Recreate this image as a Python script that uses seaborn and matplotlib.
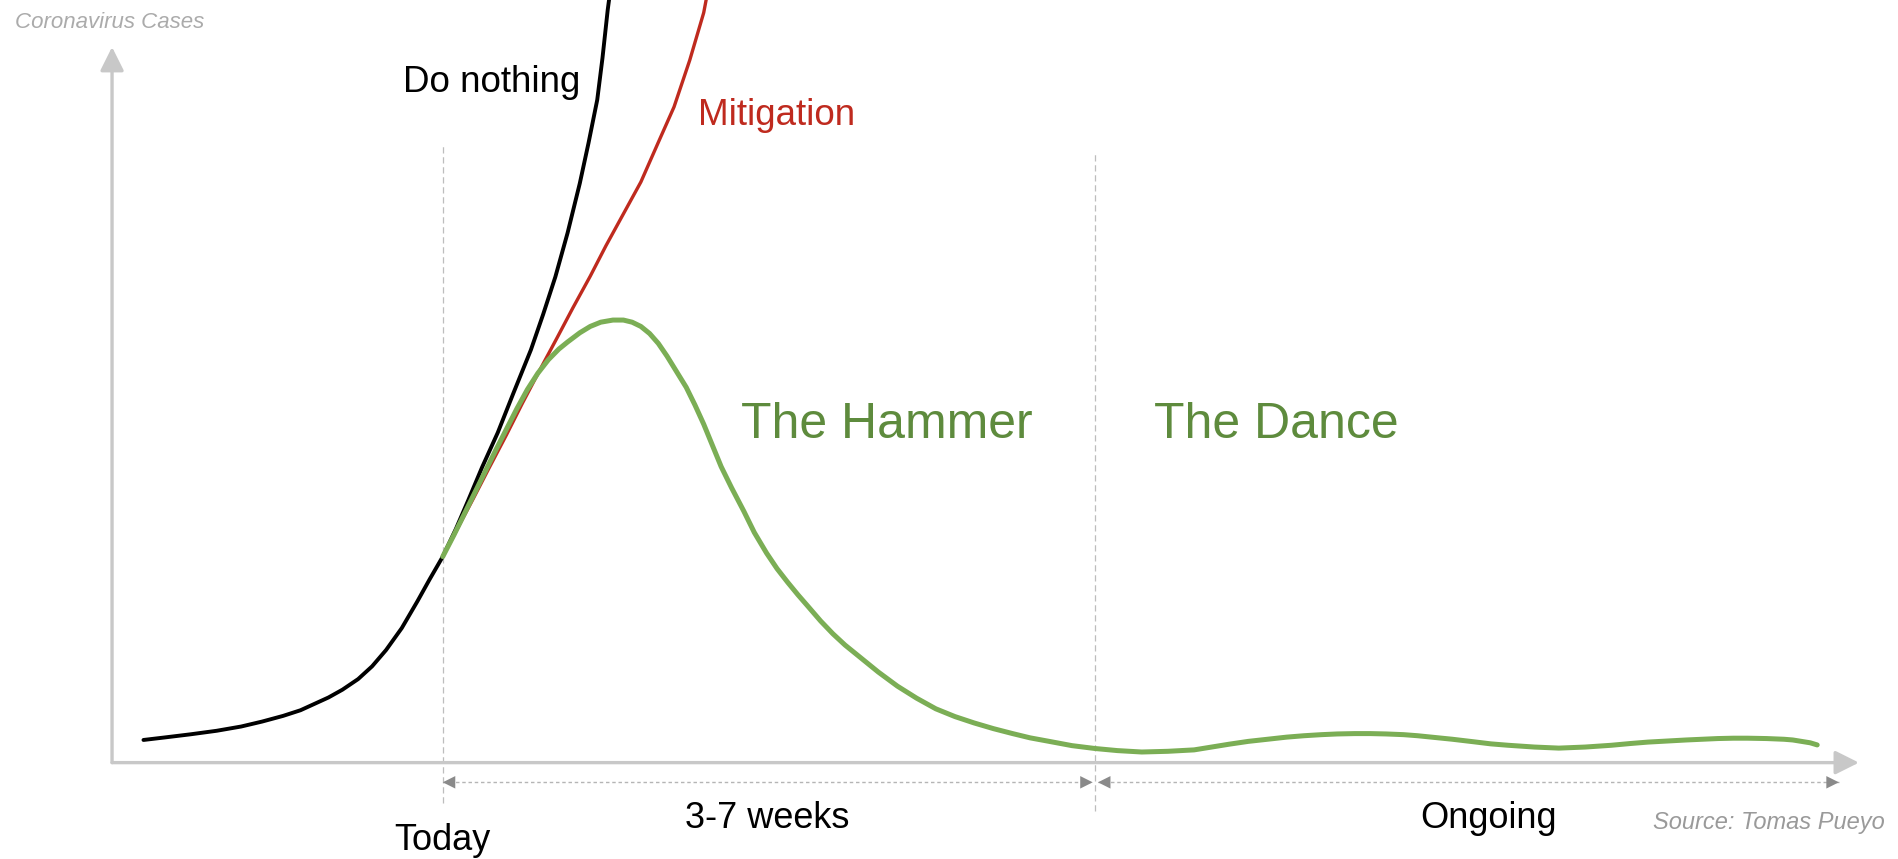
import numpy as np
import pandas as pd
import seaborn as sns
import matplotlib.pyplot as plt

# Curve points (x: time, y: cases, arbitrary units)
nothing_x = [1.8, 3.0, 4.5, 6.0, 7.4, 8.6, 9.8, 10.8, 11.6, 12.4, 13.2, 14.1, 14.9, 15.7,
             16.6, 17.5, 18.2, 18.95, 19.7, 20.4, 21.2, 22.1, 23.0, 24.0, 24.7, 25.4, 26.1,
             26.8, 27.3, 27.8, 28.1, 28.4, 28.6]
nothing_y = [3.2, 3.55, 4.0, 4.5, 5.1, 5.8, 6.6, 7.4, 8.3, 9.2, 10.3, 11.8, 13.6, 15.9,
             19.0, 22.8, 25.9, 29.1, 33.0, 37.0, 41.7, 46.6, 52.2, 58.3, 63.3, 68.6, 74.8,
             81.8, 87.5, 93.6, 99.5, 106.3, 110.0]

mitigation_x = [18.95, 19.8, 20.7, 21.6, 22.6, 23.5, 24.5, 25.5, 26.4, 27.4, 28.3, 29.3,
                30.3, 31.3, 32.2, 33.1, 33.9, 34.1]
mitigation_y = [29.1, 33.1, 37.3, 41.6, 46.3, 50.7, 55.4, 60.0, 64.2, 68.7, 73.0, 77.5,
                82.0, 87.6, 92.6, 99.2, 105.9, 108.5]

hammer_x = [18.95, 19.6, 20.2, 20.8, 21.4, 22.0, 22.6, 23.2, 23.8, 24.4, 25.0, 25.6, 26.1,
            26.8, 27.4, 28.0, 28.7, 29.3, 29.8, 30.3, 30.8, 31.3, 31.8, 32.3, 32.9, 33.4,
            33.9, 34.4, 34.9, 35.5, 36.2, 36.8, 37.5, 38.1, 38.7, 39.3, 39.9, 40.6, 41.3,
            42.0, 42.8, 43.9, 45.0, 46.1, 47.2, 48.3, 49.4, 50.5, 51.6, 52.6, 53.7, 55.0,
            56.3, 57.6, 59.0, 60.5, 62.0, 63.0, 64.0, 65.1, 66.2, 67.3, 68.3, 69.3, 70.2,
            71.2, 72.1, 73.0, 74.0, 74.8, 75.6, 76.8, 78.0, 79.0, 80.0, 81.5, 82.9, 84.4,
            85.9, 87.0, 88.0, 89.1, 90.2, 91.1, 92.0, 92.9, 93.7, 94.8, 95.8, 96.3, 96.8,
            97.3, 97.7]
hammer_y = [29.1, 32.2, 35.2, 38.2, 41.2, 44.2, 47.1, 50.0, 52.7, 55.0, 56.9, 58.4, 59.4,
            60.7, 61.6, 62.2, 62.5, 62.5, 62.2, 61.6, 60.6, 59.2, 57.4, 55.4, 53.0, 50.5,
            47.8, 44.8, 41.8, 38.8, 35.5, 32.5, 29.6, 27.4, 25.5, 23.7, 22.0, 20.0, 18.2,
            16.6, 15.0, 12.8, 10.8, 9.1, 7.6, 6.5, 5.6, 4.8, 4.1, 3.5, 3.0, 2.4,
            2.0, 1.7, 1.5, 1.6, 1.8, 2.2, 2.6, 3.0, 3.3, 3.6, 3.8, 3.95, 4.05,
            4.1, 4.1, 4.05, 3.95, 3.8, 3.6, 3.3, 2.95, 2.65, 2.45, 2.2, 2.05, 2.2,
            2.45, 2.7, 2.9, 3.05, 3.2, 3.3, 3.4, 3.45, 3.45, 3.4, 3.3, 3.2, 3.0,
            2.8, 2.5]

today_x = 18.95
dance_start_x = 56.34
period_end_x = 98.94

sns.set_theme(style='white')
plt.rcParams['font.family'] = ['Liberation Sans', 'DejaVu Sans']

fig = plt.figure(figsize=(18.98, 8.59), dpi=100)
ax = fig.add_axes([0, 0, 1, 1])

# axes with arrow heads
axis_grey = '#C8C8C8'
for tip in [(100.09, 0), (0, 101.06)]:
    ax.annotate('', xy=tip, xytext=(0, 0),
                arrowprops=dict(arrowstyle='-|>,head_length=1.0,head_width=0.5', color=axis_grey,
                                lw=2.4, shrinkA=0, shrinkB=0, mutation_scale=14.4))

# dashed phase separators
ax.plot([today_x, today_x], [-5.7, 87.2], color='#BDBDBD', lw=0.9, ls=(0, (5, 3)), zorder=1)
ax.plot([dance_start_x, dance_start_x], [-6.9, 86.3], color='#BDBDBD', lw=0.9, ls=(0, (5, 3)), zorder=1)

# period arrows
row_y = -2.78
for x0, x1 in [(today_x, 56.19), (56.49, period_end_x)]:
    ax.plot([x0, x1], [row_y, row_y], color='#B5B5B5', lw=1.0, ls=(0, (2.5, 2)), zorder=1)
    for tip, back in [(x0, x0 + 0.9), (x1, x1 - 0.9)]:
        ax.annotate('', xy=(tip, row_y), xytext=(back, row_y),
                    arrowprops=dict(arrowstyle='-|>,head_length=1.0,head_width=0.5', color='#8A8A8A',
                                    lw=0, shrinkA=0, shrinkB=0, mutation_scale=9))

# curves
curves = pd.concat([
    pd.DataFrame({'x': nothing_x, 'y': nothing_y, 'scenario': 'Do nothing'}),
    pd.DataFrame({'x': mitigation_x, 'y': mitigation_y, 'scenario': 'Mitigation'}),
    pd.DataFrame({'x': hammer_x, 'y': hammer_y, 'scenario': 'Hammer'}),
])
styles = {'Mitigation': ('#BF2A1E', 2.4, 3), 'Do nothing': ('#000000', 2.8, 4), 'Hammer': ('#7BAE55', 3.6, 5)}
for name, (col, width, z) in styles.items():
    sns.lineplot(data=curves[curves.scenario == name], x='x', y='y', color=col, lw=width,
                 estimator=None, sort=False, ax=ax, zorder=z,
                 solid_joinstyle='round', solid_capstyle='round')

ax.set_xlim(-6.42, 102.33)
ax.set_ylim(-13.61, 107.70)
ax.axis('off')

# labels
ax.text(16.69, 94.75, 'Do nothing', fontsize=26.5, color='black', va='baseline', ha='left')
ax.text(33.57, 90.04, 'Mitigation', fontsize=26.5, color='#BF2A1E', va='baseline', ha='left')
ax.text(36.02, 45.8, 'The Hammer', fontsize=36, color='#5E8B3D', va='baseline', ha='left')
ax.text(59.72, 45.8, 'The Dance', fontsize=36, color='#5E8B3D', va='baseline', ha='left')
ax.text(today_x, -12.34, 'Today', fontsize=26, color='black', va='baseline', ha='center')
ax.text(37.53, -9.28, '3-7 weeks', fontsize=26, color='black', va='baseline', ha='center')
ax.text(78.84, -9.28, 'Ongoing', fontsize=26, color='black', va='baseline', ha='center')
ax.text(101.58, -9.42, 'Source: Tomas Pueyo', fontsize=17, color='#9A9A9A', style='italic',
        va='baseline', ha='right')
ax.text(-5.56, 103.7, 'Coronavirus Cases', fontsize=16, color='#ABABAB', style='italic',
        va='baseline', ha='left')

fig.savefig('out.png', dpi=100, facecolor='white')
